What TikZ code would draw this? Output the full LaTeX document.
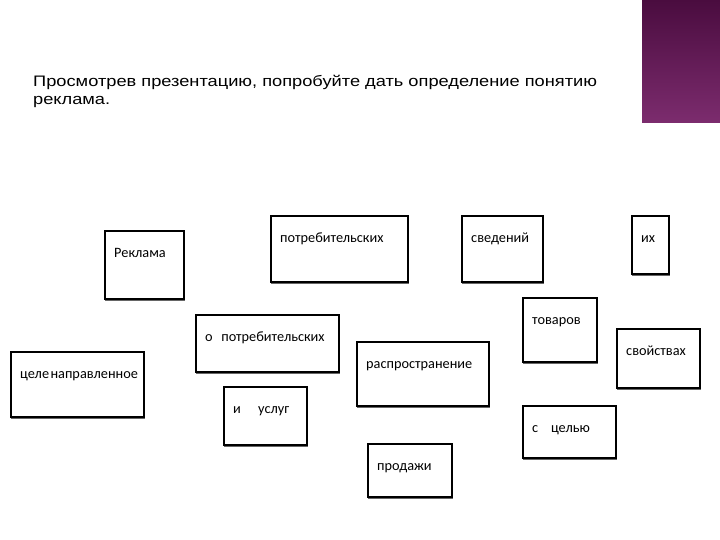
\documentclass[tikz,border=0pt]{standalone}
\usepackage{fontspec}
\setmainfont{Liberation Sans}
\newfontfamily\titlefont[FakeStretch=1.2]{Liberation Sans}
\newfontfamily\boxfont{Carlito}
\definecolor{plumtop}{HTML}{4A0C3F}
\definecolor{plumbot}{HTML}{7C2C6E}
\tikzset{
  wordbox/.style={draw=black, line width=1.1pt, fill=white},
  boxshade/.style={draw=black!60, line width=1.2pt},
  wordtxt/.style={anchor=base west, inner sep=0pt, font=\boxfont\fontsize{14.3}{16}\selectfont},
  titletxt/.style={anchor=base west, inner sep=0pt, font=\titlefont\fontsize{15.2}{18}\selectfont}
}
\begin{document}
\begin{tikzpicture}[x=1pt,y=-1pt]
\useasboundingbox (0,0) rectangle (720,540);
\fill[white] (0,0) rectangle (720,540);
\shade[top color=plumtop, bottom color=plumbot] (642,0) rectangle (720,123);
\node[titletxt] (t1) at (33,87) {Просмотрев презентацию, попробуйте дать определение понятию};
\node[titletxt] (t2) at (33,105) {реклама.};
% boxes
\newcommand{\wbox}[6]{%
  \draw[wordbox] (#2,#3) rectangle (#4,#5);
  \draw[boxshade] (#2,#5+1.3) -- (#4+0.5,#5+1.3);
  \node[wordtxt] (#1) at (#2+9,#3+26) {#6};}
\wbox{b1}{105}{231}{184}{299}{Реклама}
\wbox{b2}{271}{216}{408}{282}{потребительских}
\wbox{b3}{462}{216}{543}{282}{сведений}
\wbox{b4}{632}{216}{669}{274}{их}
\wbox{b5}{196}{315}{339}{372}{о\hspace{0.6em}потребительских}
\wbox{b6}{11}{352}{144}{417}{целе\hspace{0.1em}направленное}
\wbox{b7}{224}{387}{307}{445}{и\hspace{1.2em}услуг}
\wbox{b8}{357}{342}{489}{406}{распространение}
\wbox{b9}{523}{298}{597}{362}{товаров}
\wbox{b10}{617}{329}{700}{388}{свойствах}
\wbox{b11}{523}{406}{616}{458}{с\hspace{0.9em}целью}
\wbox{b12}{368}{444}{452}{497}{продажи}
\end{tikzpicture}
\end{document}
